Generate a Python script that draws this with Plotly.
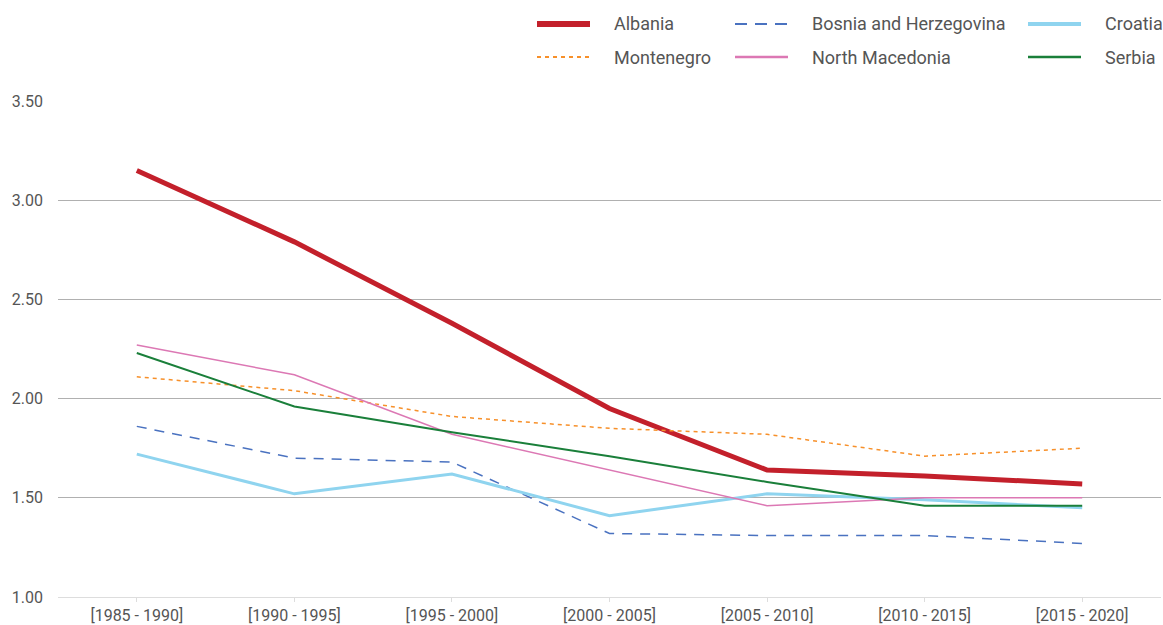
import plotly.graph_objects as go

periods = ["[1985 - 1990]", "[1990 - 1995]", "[1995 - 2000]", "[2000 - 2005]",
           "[2005 - 2010]", "[2010 - 2015]", "[2015 - 2020]"]

albania = [3.15, 2.79, 2.38, 1.95, 1.64, 1.61, 1.57]
bosnia = [1.86, 1.70, 1.68, 1.32, 1.31, 1.31, 1.27]
croatia = [1.72, 1.52, 1.62, 1.41, 1.52, 1.49, 1.45]
montenegro = [2.11, 2.04, 1.91, 1.85, 1.82, 1.71, 1.75]
north_macedonia = [2.27, 2.12, 1.82, 1.64, 1.46, 1.50, 1.50]
serbia = [2.23, 1.96, 1.83, 1.71, 1.58, 1.46, 1.46]

series = [
    ("Albania", albania, "#c3202b", 5, "solid", 6),
    ("Bosnia and Herzegovina", bosnia, "#4a72c0", 1.5, "10px,8px", 2),
    ("Croatia", croatia, "#8fd4ef", 3, "solid", 4),
    ("Montenegro", montenegro, "#f7902a", 1.5, "4px,4px", 2),
    ("North Macedonia", north_macedonia, "#dc78b4", 1.5, "solid", 2.5),
    ("Serbia", serbia, "#1a7f3a", 2, "solid", 2.5),
]

fig = go.Figure()
for name, vals, color, width, dash, lw in series:
    fig.add_trace(go.Scatter(x=periods, y=vals, mode="lines", name=name,
                             line=dict(color=color, width=width, dash=dash),
                             showlegend=False))

# custom legend (pixel layout converted to paper coords)
L, R, T, B = 58, 1161, 101, 597
def px(x):
    return (x - L) / (R - L)
def py(y):
    return (B - y) / (B - T)

legend_pos = [(537, 24), (735, 24), (1028, 24), (537, 57), (735, 57), (1028, 57)]
for (name, vals, color, width, dash, lw), (x0, y0) in zip(series, legend_pos):
    fig.add_shape(type="line", xref="paper", yref="paper",
                  x0=px(x0), x1=px(x0 + 53), y0=py(y0), y1=py(y0),
                  line=dict(color=color, width=lw, dash=dash if dash != "10px,8px" else "12px,8px"))
    fig.add_annotation(xref="paper", yref="paper", x=px(x0 + 75), y=py(y0),
                       text=name, showarrow=False, xanchor="left", yanchor="middle",
                       font=dict(size=18, color="#555555", family="Roboto"))

fig.update_layout(
    width=1163, height=625,
    margin=dict(l=L, r=1163 - R, t=T, b=625 - B),
    plot_bgcolor="white", paper_bgcolor="white",
    font=dict(family="Roboto", size=16, color="#555555"),
    xaxis=dict(range=[-0.5, 6.5], showgrid=False, ticks="outside", ticklen=4,
               tickcolor="#dddddd", showline=True, linecolor="#dddddd", linewidth=1,
               automargin=False, tickfont=dict(size=16, color="#555555")),
    yaxis=dict(range=[1.0, 3.5], tickvals=[1.0, 1.5, 2.0, 2.5, 3.0, 3.5],
               tickformat=".2f", showgrid=True, gridcolor="#b0b0b0", gridwidth=1,
               zeroline=False, showline=False, ticks="", ticklabelstandoff=14,
               automargin=False, tickfont=dict(size=16, color="#555555")),
)

fig.write_html("out.html", config={"displayModeBar": False},
               post_script="document.body.style.margin='0';document.body.style.overflow='hidden';")
